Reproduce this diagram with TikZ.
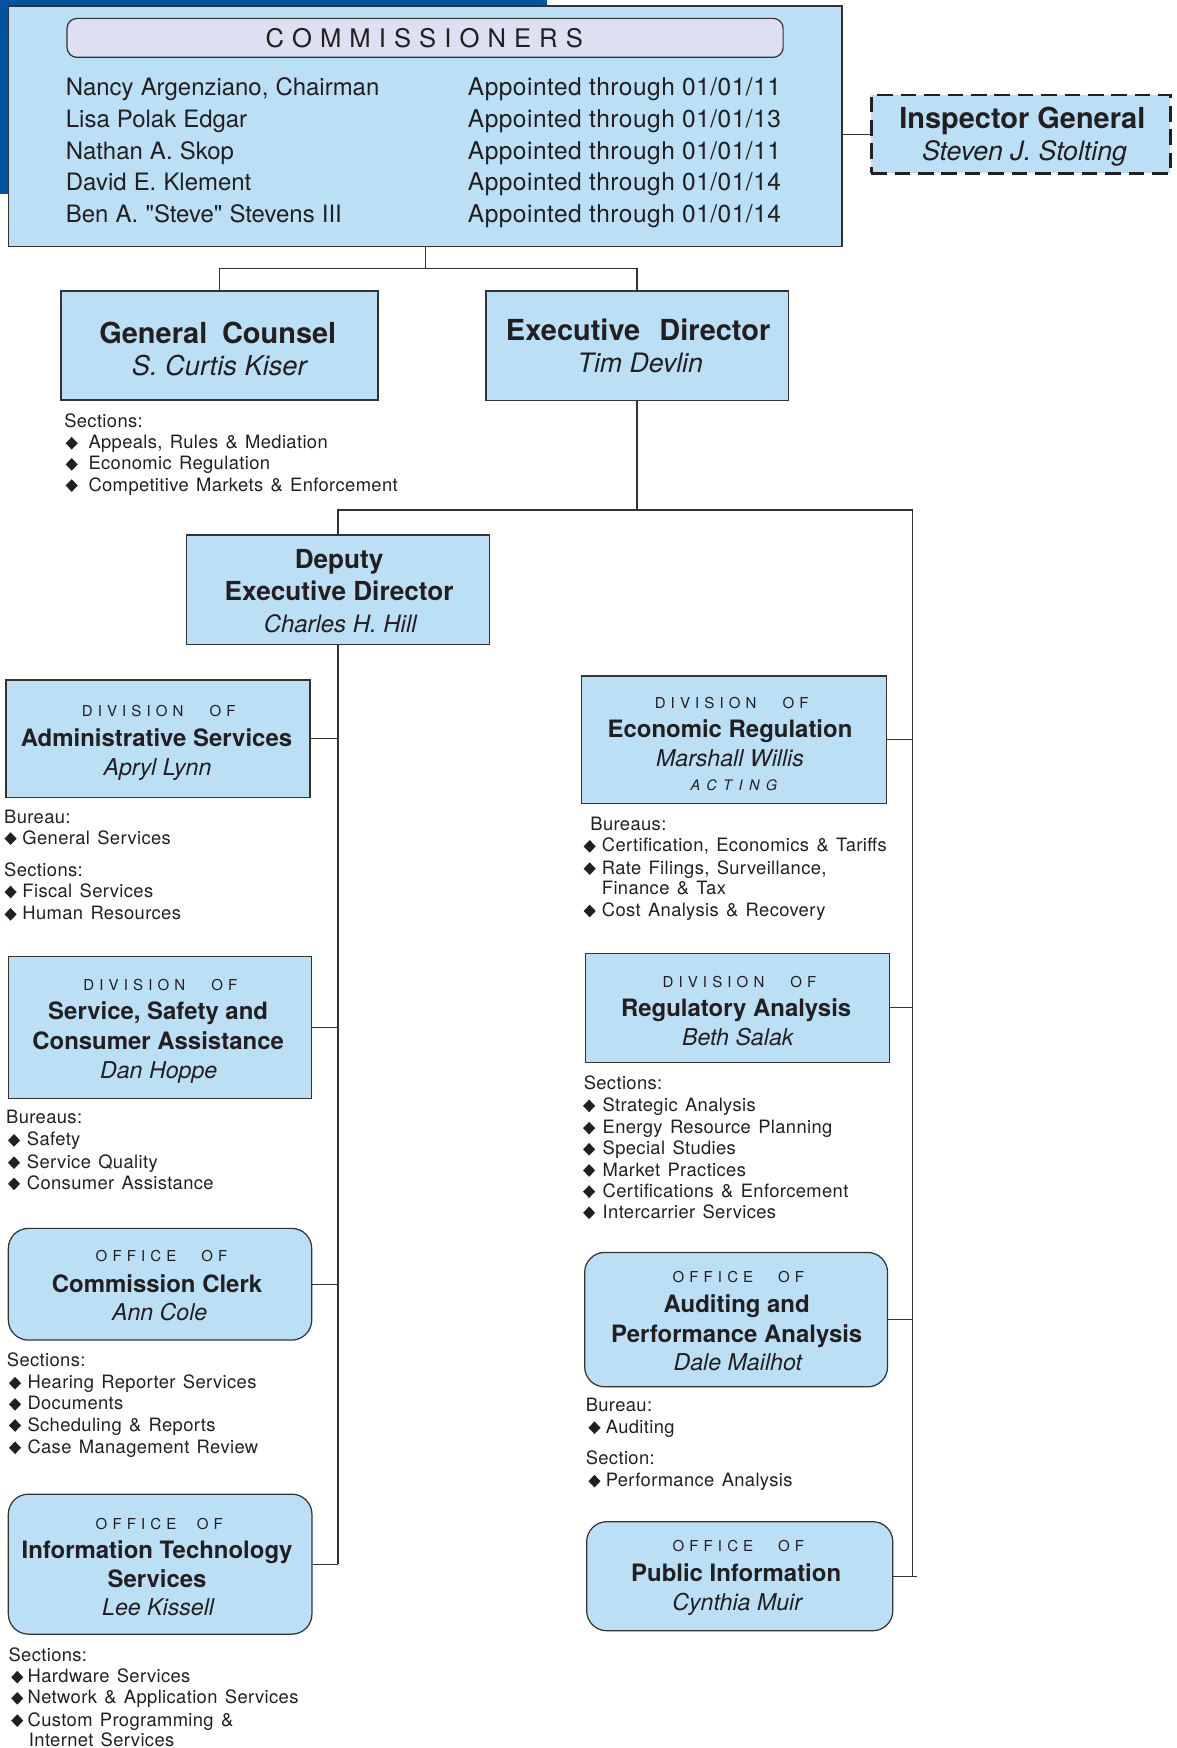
\documentclass[tikz,border=0pt]{standalone}
\usepackage{fontspec}
\setmainfont{TeX Gyre Heros}
\newfontfamily\listfont[LetterSpace=2]{TeX Gyre Heros}
\newfontfamily\capsfont[LetterSpace=34]{TeX Gyre Heros}
\newfontfamily\headfont[LetterSpace=31.5]{TeX Gyre Heros}
\newfontfamily\datefont[LetterSpace=2]{TeX Gyre Heros}
\newfontfamily\namefont{TeX Gyre Heros}
\newfontfamily\actfont[LetterSpace=45]{TeX Gyre Heros}
\usetikzlibrary{shapes.geometric,calc}
\newcommand\fsz[1]{\fontsize{#1pt}{#1pt}\selectfont}
\newcommand\lstsel{\listfont\fsz{16.5}\spaceskip=6.6pt plus 1pt minus 0.5pt\relax}
\newcommand\comsel{\namefont\fsz{21.5}\spaceskip=6.4pt plus 1pt minus 0.5pt\relax}
\definecolor{boxblue}{RGB}{187,223,245}
\definecolor{hdrlav}{RGB}{220,224,240}
\definecolor{deepblue}{RGB}{0,83,160}
\definecolor{ink}{RGB}{35,31,32}
\definecolor{edgegray}{RGB}{51,51,51}
\tikzset{
  orgbox/.style={draw=edgegray, line width=1.1pt, fill=boxblue, inner sep=0pt},
  rorgbox/.style={orgbox, rounded corners=18pt},
  igbox/.style={draw=ink, line width=2.4pt, dash pattern=on 14pt off 7pt, fill=boxblue, inner sep=0pt},
  conn/.style={draw=edgegray, line width=1.1pt},
  txt/.style={anchor=base, inner sep=0pt, text=ink},
  bigttl/.style={txt, font=\fsz{26}\bfseries},
  bignm/.style={txt, font=\fsz{24}\itshape},
  divttl/.style={txt, font=\fsz{21.5}\bfseries},
  divnm/.style={txt, font=\fsz{20.8}\itshape},
  capln/.style={txt, font=\capsfont\fsz{13.5}},
  lstln/.style={anchor=base west, inner sep=0pt, text=ink, font=\lstsel},
  comln/.style={anchor=base west, inner sep=0pt, text=ink, font=\comsel},
  datln/.style={anchor=base west, inner sep=0pt, text=ink, font=\datefont\fsz{22}},
  bulpt/.style={diamond, fill=ink, inner sep=0pt, minimum width=11pt, minimum height=11.5pt},
}
\newcommand\blt[5]{\node[bulpt] (#1d) at (#2,#4-5) {}; \node[lstln] (#1) at (#3,#4) {#5};}
\begin{document}
\begin{tikzpicture}[x=1pt,y=-1pt]
\useasboundingbox (0,0) rectangle (1056,1569.6);
\fill[deepblue] (0,0) rectangle (491.5,174.5);

% Commissioners
\node[orgbox, minimum width=748.4pt, minimum height=216.1pt] (comm) at (381.8,113.45) {};
\node[orgbox, fill=hdrlav, rounded corners=9pt, minimum width=643pt, minimum height=35pt] (hdr) at (381.7,34) {};
\node[txt, font=\headfont\fsz{23}] (hdrt) at (381,42.8) {COMMISSIONERS};
\node[comln] (n1) at (59,86) {Nancy Argenziano, Chairman};
\node[comln] (n2) at (59,114.5) {Lisa Polak Edgar};
\node[comln] (n3) at (59,143) {Nathan A. Skop};
\node[comln] (n4) at (59,171.5) {David E. Klement};
\node[comln] (n5) at (59,200) {Ben A. "Steve" Stevens III};
\node[datln] (d1) at (420,86) {Appointed through 01/01/11};
\node[datln] (d2) at (420,114.5) {Appointed through 01/01/13};
\node[datln] (d3) at (420,143) {Appointed through 01/01/11};
\node[datln] (d4) at (420,171.5) {Appointed through 01/01/14};
\node[datln] (d5) at (420,200) {Appointed through 01/01/14};

% Inspector General
\node[igbox, minimum width=268.6pt, minimum height=70.3pt] (ig) at (916.7,120.45) {};
\node[bigttl] (igt) at (918,115.2) {Inspector General};
\node[bignm] (ign) at (920,144) {Steven J. Stolting};
\draw[conn] (ig.west) -- (ig.west -| comm.east);

% General Counsel
\node[orgbox, minimum width=284.7pt, minimum height=97.9pt] (gc) at (197.15,310.25) {};
\node[bigttl] (gct) at (195.6,308.3) {General\hspace{6pt} Counsel};
\node[bignm, font=\fsz{24.5}\itshape] (gcn) at (196.9,336.8) {S. Curtis Kiser};
\node[lstln] (gcs) at (57.5,384) {Sections:};
\blt{gc1}{64.4}{79.3}{403}{Appeals, Rules \& Mediation}
\blt{gc2}{64.4}{79.3}{422}{Economic Regulation}
\blt{gc3}{64.4}{79.3}{441}{Competitive Markets \& Enforcement}

% Executive Director
\node[orgbox, minimum width=271.4pt, minimum height=98.2pt] (ed) at (572,310.4) {};
\node[bigttl] (edt) at (573,306) {Executive\hspace{10pt} Director};
\node[bignm] (edn) at (575,334.5) {Tim Devlin};

% Deputy
\node[orgbox, minimum width=272pt, minimum height=98.2pt] (dep) at (303.5,529.5) {};
\node[txt, font=\fsz{23.5}\bfseries] (dept1) at (304.5,510.5) {Deputy};
\node[txt, font=\fsz{23.5}\bfseries] (dept2) at (304.5,539) {Executive Director};
\node[txt, font=\fsz{21.5}\itshape] (depn) at (305.5,568) {Charles H. Hill};

% Administrative Services
\node[orgbox, minimum width=273pt, minimum height=105.4pt] (adm) at (141.9,663.3) {};
\node[capln] (admc) at (142.5,643) {DIVISION\hspace{15pt} OF};
\node[divttl] (admt) at (140.5,670.5) {Administrative Services};
\node[divnm] (admn) at (141.4,696) {Apryl Lynn};
\node[lstln] (adl1) at (3.6,739) {Bureau:};
\blt{ad1}{9.5}{20}{758}{General Services}
\node[lstln] (adl2) at (3.6,787) {Sections:};
\blt{ad2}{9.5}{20}{806}{Fiscal Services}
\blt{ad3}{9.5}{20}{826}{Human Resources}

% Service, Safety and Consumer Assistance
\node[orgbox, minimum width=272.4pt, minimum height=127.3pt] (ssca) at (143.7,922.65) {};
\node[capln] (sscac) at (144,889) {DIVISION\hspace{15pt} OF};
\node[divttl] (sscat1) at (142,915.5) {Service, Safety and};
\node[divttl] (sscat2) at (142,942.5) {Consumer Assistance};
\node[divnm] (sscan) at (142.5,968) {Dan Hoppe};
\node[lstln] (ssl) at (5.4,1009) {Bureaus:};
\blt{ss1}{12.6}{24}{1029}{Safety}
\blt{ss2}{12.6}{24}{1049}{Service Quality}
\blt{ss3}{12.6}{24}{1068}{Consumer Assistance}

% Commission Clerk
\node[rorgbox, minimum width=272.4pt, minimum height=100.3pt] (clerk) at (143.7,1153.15) {};
\node[capln] (clerkc) at (145,1133) {OFFICE\hspace{14pt} OF};
\node[divttl] (clerkt) at (141,1160.5) {Commission Clerk};
\node[divnm] (clerkn) at (143.4,1186) {Ann Cole};
\node[lstln] (ccl) at (6,1227) {Sections:};
\blt{cc1}{13.5}{24.5}{1247}{Hearing Reporter Services}
\blt{cc2}{13.5}{24.5}{1266}{Documents}
\blt{cc3}{13.5}{24.5}{1285}{Scheduling \& Reports}
\blt{cc4}{13.5}{24.5}{1305}{Case Management Review}

% Information Technology Services
\node[rorgbox, minimum width=272.6pt, minimum height=125.7pt] (it) at (143.8,1404.5) {};
\node[capln] (itc) at (143,1373) {OFFICE\hspace{10pt} OF};
\node[divttl] (itt1) at (141,1399.5) {Information Technology};
\node[divttl] (itt2) at (141,1425.5) {Services};
\node[divnm] (itn) at (142,1451) {Lee Kissell};
\node[lstln] (itl) at (7.5,1492) {Sections:};
\blt{it1}{15.5}{24.7}{1511}{Hardware Services}
\blt{it2}{15.5}{24.7}{1530}{Network \& Application Services}
\blt{it3}{15.5}{24.7}{1550}{Custom Programming \&}
\node[lstln] (it4) at (25.8,1568) {Internet Services};

% Economic Regulation
\node[orgbox, minimum width=273.9pt, minimum height=114.4pt] (er) at (659.35,664.2) {};
\node[capln] (erc) at (657,636) {DIVISION\hspace{15pt} OF};
\node[divttl] (ert) at (655.5,662.5) {Economic Regulation};
\node[divnm] (ern) at (655.5,688) {Marshall Willis};
\node[txt, font=\actfont\itshape\fsz{13}] (era) at (659,709.5) {ACTING};
\node[lstln] (erl) at (530,746) {Bureaus:};
\blt{er1}{529.5}{540.3}{765}{Certification, Economics \& Tariffs}
\blt{er2}{529.5}{540.3}{785}{Rate Filings, Surveillance,}
\node[lstln] (er3) at (540.3,803) {Finance \& Tax};
\blt{er4}{529.5}{540.3}{823}{Cost Analysis \& Recovery}

% Regulatory Analysis
\node[orgbox, minimum width=273pt, minimum height=98pt] (ra) at (662.5,905) {};
\node[capln] (rac) at (664,887) {DIVISION\hspace{15pt} OF};
\node[divttl] (rat) at (661,912.5) {Regulatory Analysis};
\node[divnm] (ran) at (662.5,939) {Beth Salak};
\node[lstln] (ral) at (524,978) {Sections:};
\blt{ra1}{529}{541}{998}{Strategic Analysis}
\blt{ra2}{529}{541}{1018}{Energy Resource Planning}
\blt{ra3}{529}{541}{1037}{Special Studies}
\blt{ra4}{529}{541}{1056}{Market Practices}
\blt{ra5}{529}{541}{1075}{Certifications \& Enforcement}
\blt{ra6}{529}{541}{1094}{Intercarrier Services}

% Auditing and Performance Analysis
\node[rorgbox, minimum width=272pt, minimum height=120.7pt] (aud) at (661,1184.95) {};
\node[capln] (audc) at (663,1152) {OFFICE\hspace{14pt} OF};
\node[divttl] (audt1) at (661.5,1178.5) {Auditing and};
\node[divttl] (audt2) at (661.5,1205.5) {Performance Analysis};
\node[divnm] (audn) at (662.5,1231) {Dale Mailhot};
\node[lstln] (aul1) at (525.8,1267) {Bureau:};
\blt{au1}{533.8}{543.8}{1287}{Auditing}
\node[lstln] (aul2) at (525.8,1315) {Section:};
\blt{au2}{533.8}{543.8}{1335}{Performance Analysis}

% Public Information
\node[rorgbox, minimum width=274.9pt, minimum height=97.9pt] (pi) at (664.25,1415.35) {};
\node[capln] (pic) at (663,1393) {OFFICE\hspace{14pt} OF};
\node[divttl] (pit) at (661,1420.5) {Public Information};
\node[divnm] (pin) at (662,1446) {Cynthia Muir};

% Connectors
\coordinate (j0) at (381.8,241);
\draw[conn] (comm.south) -- (j0);
\draw[conn] (j0) -| (gc.north);
\draw[conn] (j0) -| (ed.north);
\coordinate (jr) at (819.5,458);
\draw[conn] (ed.south) -- (ed.south |- jr);
\draw[conn] (dep.north) |- (jr);
\draw[conn] (jr) -- (jr |- pi.east);
\draw[conn] (dep.south) -- (dep.south |- it.east);
\draw[conn] (adm.east) -- (adm.east -| dep.south);
\draw[conn] (ssca.east) -- (ssca.east -| dep.south);
\draw[conn] (clerk.east) -- (clerk.east -| dep.south);
\draw[conn] (it.east) -- (it.east -| dep.south);
\draw[conn] (er.east) -- (er.east -| jr);
\draw[conn] (ra.east) -- (ra.east -| jr);
\draw[conn] (aud.east) -- (aud.east -| jr);
\draw[conn] (pi.east) -- ($(pi.east -| jr)+(3.5,0)$);
\end{tikzpicture}
\end{document}
